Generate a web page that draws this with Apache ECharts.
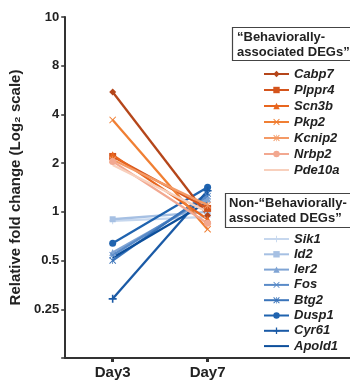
<!DOCTYPE html>
<html>
<head>
<meta charset="utf-8">
<script src="https://cdn.jsdelivr.net/npm/echarts@6/dist/echarts.min.js"></script>
<style>
  html, body {margin: 0; padding: 0; background: #fff;}
  #chart {width: 350px; height: 382px;}
</style>
</head>
<body>
<div id="chart"></div>
<script>
const days = ['Day3', 'Day7'];
const behavGenes = ['Cabp7', 'Plppr4', 'Scn3b', 'Pkp2', 'Kcnip2', 'Nrbp2', 'Pde10a'];
const behavDay3 = [5.5, 2.2, 2.25, 3.7, 2.1, 2.05, 1.95];
const behavDay7 = [0.95, 1.05, 0.9, 0.78, 1.1, 0.85, 1.0];
const otherGenes = ['Sik1', 'Id2', 'Ier2', 'Fos', 'Btg2', 'Dusp1', 'Cyr61', 'Apold1'];
const otherDay3 = [0.88, 0.9, 0.56, 0.54, 0.5, 0.64, 0.29, 0.52];
const otherDay7 = [0.93, 1.0, 1.2, 1.25, 1.3, 1.42, 1.35, 1.15];
const yTickLabels = {0.125: '', 0.25: '0.25', 0.5: '0.5', 1: '1', 2: '2', 4: '4', 8: '8', 16: '10'};

const orange = ['#b5461a', '#d4541c', '#e8661f', '#f07f33', '#f49a66', '#f2a890', '#f8d0bd'];
const blue = ['#c6d7ee', '#a6c0e3', '#7fa4d4', '#5a8bc8', '#3a74ba', '#1f63af', '#1a5aa6', '#0d4f9b'];

// filled outlines, they get stretched to the symbol box
const xPath = 'path://M0,1L1,0L5,4L9,0L10,1L6,5L10,9L9,10L5,6L1,10L0,9L4,5Z';
const starPath = 'path://M0,1L1,0L4.5,3.5V0H5.5V3.5L9,0L10,1L6,5L10,9L9,10L5.5,6.5V10H4.5V6.5L1,10L0,9L4,5Z';
const plusPath = 'path://M4.3,0H5.7V4.3H10V5.7H5.7V10H4.3V5.7H0V4.3H4.3Z';
const crossPath = 'path://M4,0H6V4H10V6H6V10H4V6H0V4H4Z';

const behavSymbols = ['diamond', 'rect', 'triangle', xPath, starPath, 'circle', 'none'];
const otherSymbols = [plusPath, 'rect', 'triangle', xPath, starPath, 'circle', crossPath, 'none'];
const otherSizes = [7, 6, 7, 7, 7, 7, 8, 6];

const mk = (name, d3, d7, color, symbol, size) => ({
  name,
  type: 'line',
  data: [[1, d3], [2, d7]],
  symbol: symbol === 'none' ? 'circle' : symbol,
  symbolSize: symbol === 'none' ? 0 : size,
  showSymbol: symbol !== 'none',
  lineStyle: {color, width: 2.3},
  itemStyle: {color},
  emphasis: {disabled: true},
  animation: false
});

const series = [];
otherGenes.forEach((g, i) => series.push(mk(g, otherDay3[i], otherDay7[i], blue[i], otherSymbols[i], otherSizes[i])));
behavGenes.forEach((g, i) => series.push(mk(g, behavDay3[i], behavDay7[i], orange[i], behavSymbols[i], 7)));

const legendText = {fontFamily: 'Liberation Sans', fontStyle: 'italic', fontWeight: 'bold', fontSize: 13, color: '#222', lineHeight: 14};
const legendItems = (names, syms) => names.map((n, i) => syms[i] === 'none' ? {name: n, itemStyle: {opacity: 0}} : {name: n});

const chart = echarts.init(document.getElementById('chart'));
chart.setOption({
  animation: false,
  grid: {left: 60, top: 17, right: 0, bottom: 24},
  xAxis: {
    type: 'value',
    min: 0.5,
    max: 3.5,
    splitLine: {show: false},
    axisLine: {lineStyle: {color: '#333', width: 2}},
    axisTick: {customValues: [1, 2], length: 4, lineStyle: {color: '#333', width: 3}},
    axisLabel: {
      customValues: [1, 2],
      formatter: v => days[v - 1],
      fontFamily: 'Liberation Sans', fontWeight: 'bold', fontSize: 15, color: '#222', margin: 7
    }
  },
  yAxis: {
    type: 'log',
    logBase: 2,
    min: 0.125,
    max: 16,
    interval: 1,
    name: 'Relative fold change (Log₂ scale)',
    nameLocation: 'middle',
    nameGap: 27,
    nameTextStyle: {fontFamily: 'Liberation Sans', fontWeight: 'bold', fontSize: 15, color: '#222'},
    splitLine: {show: false},
    axisLine: {show: true, lineStyle: {color: '#333', width: 2}},
    axisTick: {show: true, length: 4, lineStyle: {color: '#333', width: 1.5}},
    axisLabel: {
      formatter: v => yTickLabels[v] !== undefined ? yTickLabels[v] : String(v),
      fontFamily: 'Liberation Sans', fontWeight: 'bold', fontSize: 13, color: '#222', margin: 6
    }
  },
  legend: [
    {
      data: legendItems(behavGenes, behavSymbols),
      orient: 'vertical',
      left: 258, top: 62,
      itemWidth: 25, itemHeight: 8, itemGap: 2,
      textStyle: legendText,
      selectedMode: false
    },
    {
      data: legendItems(otherGenes, otherSymbols),
      orient: 'vertical',
      left: 258, top: 227,
      itemWidth: 25, itemHeight: 8, itemGap: 1.3,
      textStyle: legendText,
      selectedMode: false
    }
  ],
  graphic: [
    {type: 'rect', shape: {x: 232.5, y: 27.5, width: 125, height: 33}, style: {fill: '#fff', stroke: '#444', lineWidth: 1.2}, z: 10},
    {type: 'text', x: 237, y: 30, z: 11, style: {text: '“Behaviorally-\nassociated DEGs”', font: 'bold 13px "Liberation Sans"', fill: '#222', lineHeight: 15}},
    {type: 'rect', shape: {x: 225.5, y: 193.5, width: 130, height: 34}, style: {fill: '#fff', stroke: '#444', lineWidth: 1.2}, z: 10},
    {type: 'text', x: 229, y: 196, z: 11, style: {text: 'Non-“Behaviorally-\nassociated DEGs”', font: 'bold 13px "Liberation Sans"', fill: '#222', lineHeight: 15}}
  ],
  series
});
</script>
</body>
</html>
